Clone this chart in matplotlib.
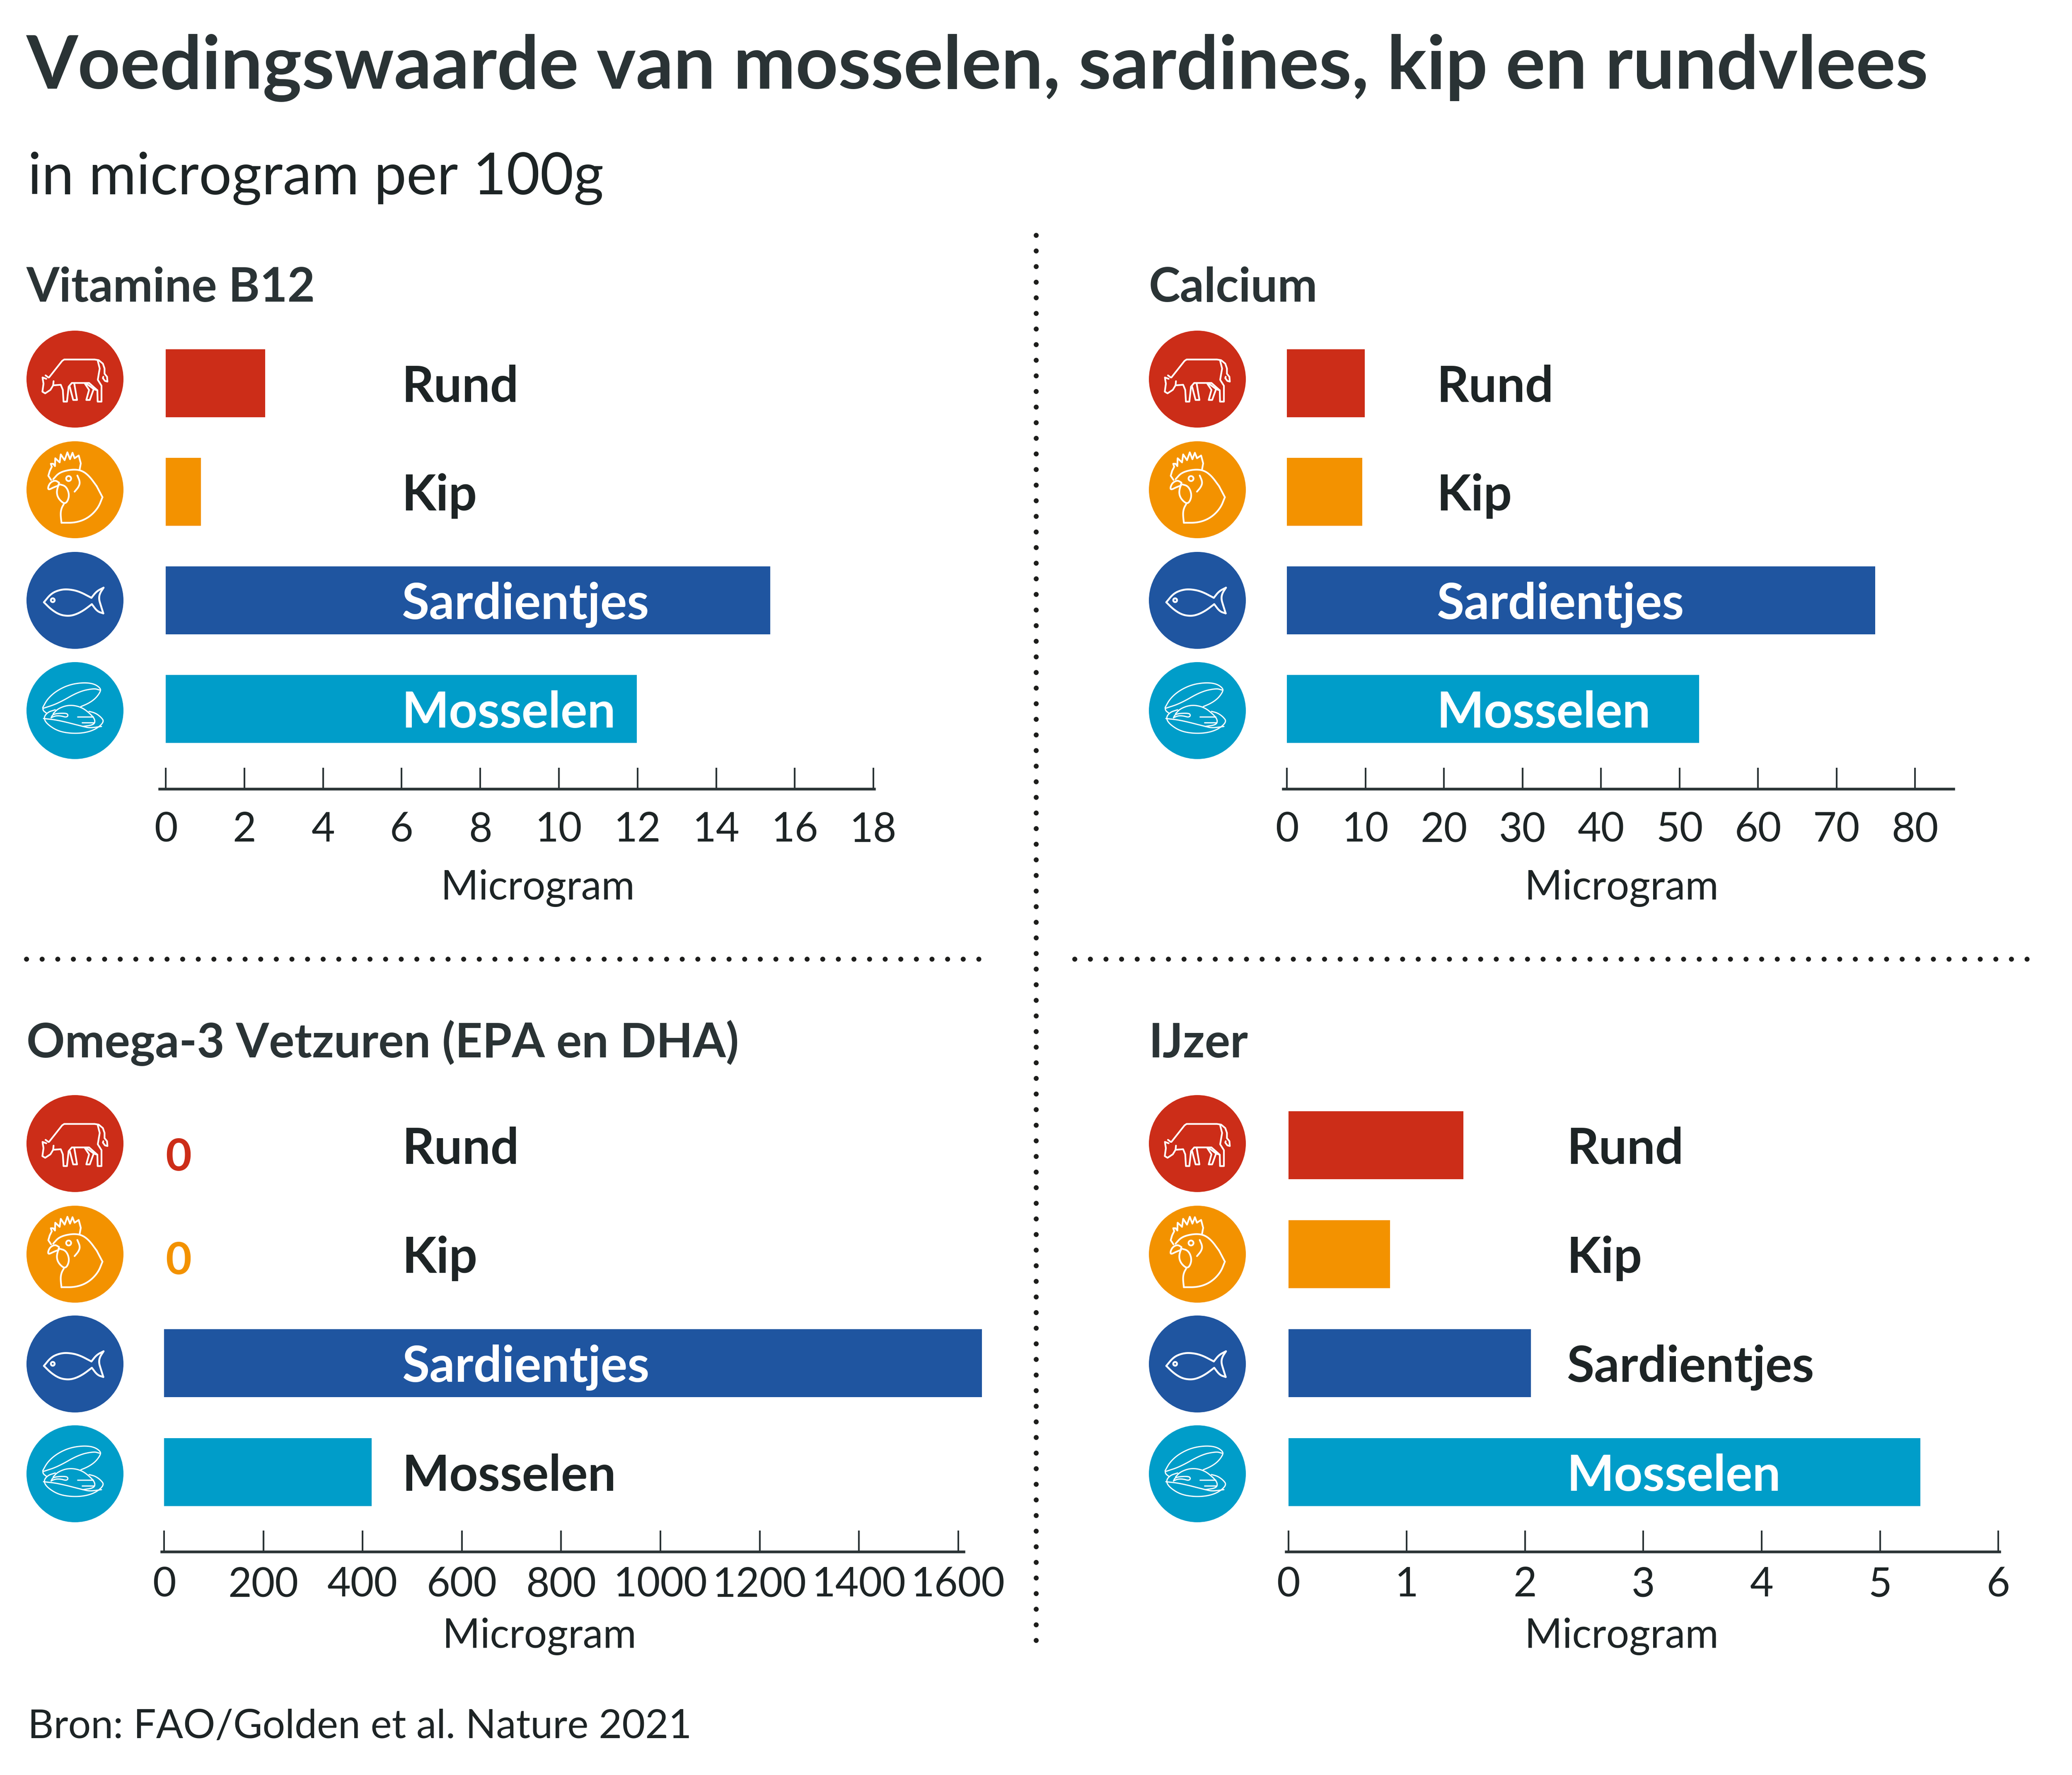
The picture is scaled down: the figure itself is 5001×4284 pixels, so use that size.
import numpy as np
import matplotlib
matplotlib.use("Agg")
import matplotlib.pyplot as plt
from matplotlib.patches import Circle

W, H = 5001, 4284
plt.rcParams["font.family"] = ["Lato", "Liberation Sans", "DejaVu Sans"]

foods = ["Rund", "Kip", "Sardientjes", "Mosselen"]
colors = ["#CC2D18", "#F39200", "#1F55A0", "#009DC9"]
DARK = "#1D2425"
HEAD = "#2A3335"

b12 = [2.53, 0.89, 15.37, 11.98]
calcium = [9.9, 9.6, 74.9, 52.5]
omega3 = [0, 0, 1648, 418]
ijzer = [1.48, 0.86, 2.05, 5.34]

b12_ticks = [0, 2, 4, 6, 8, 10, 12, 14, 16, 18]
calcium_ticks = [0, 10, 20, 30, 40, 50, 60, 70, 80]
omega3_ticks = [0, 200, 400, 600, 800, 1000, 1200, 1400, 1600]
ijzer_ticks = [0, 1, 2, 3, 4, 5, 6]

cow_lines = [
    ([(355, 455), (450, 335), (465, 325), (685, 325), (715, 330), (745, 355), (757, 390),
      (757, 428), (775, 450), (778, 485), (760, 480), (745, 460), (748, 450)], False),
    ([(708, 335), (722, 390), (708, 472), (735, 515), (735, 630), (707, 630), (705, 548),
      (645, 495), (520, 495), (497, 522), (485, 630), (460, 630), (455, 545), (440, 508),
      (385, 512)], False),
    ([(388, 482), (385, 512), (365, 545), (327, 570), (307, 558), (315, 500), (310, 470),
      (308, 455), (335, 465)], False),
    ([(330, 440), (350, 455)], False),
    ([(505, 522), (530, 618), (558, 618), (538, 500)], False),
    ([(615, 500), (645, 545), (625, 618), (650, 618), (678, 540)], False),
    ([(630, 503), (680, 540), (705, 548)], False),
]
chicken_lines = [
    ([(370, 1195), (350, 1165), (360, 1130), (375, 1100), (368, 1078), (385, 1078), (398, 1095),
      (400, 1038), (432, 1068), (440, 1010), (468, 1052), (488, 995), (507, 1045), (525, 998),
      (540, 1038), (570, 1018), (585, 1075), (577, 1118)], False),
    ([(385, 1190), (430, 1140), (520, 1118), (590, 1125), (645, 1165), (700, 1240)], True),
    ([(700, 1240), (742, 1320)], False),
    ([(742, 1320), (710, 1400), (640, 1470), (550, 1505), (445, 1505)], True),
    ([(445, 1505), (438, 1440), (445, 1400), (462, 1370)], True),
    ([(428, 1215), (400, 1197), (365, 1213), (348, 1245), (350, 1268), (390, 1248), (425, 1235)], True),
    ([(425, 1225), (480, 1240), (505, 1310), (475, 1375), (425, 1335), (408, 1285), (425, 1225)], True),
    ([(560, 1163), (580, 1210), (570, 1245), (540, 1280)], True),
]
fish_lines = [
    ([(318, 400), (370, 345), (430, 322), (490, 317), (570, 330), (662, 372)], True),
    ([(662, 372), (700, 330), (750, 308)], True),
    ([(750, 308), (722, 345), (716, 380), (730, 420), (748, 470)], True),
    ([(748, 470), (705, 458), (665, 412)], True),
    ([(665, 412), (600, 455), (540, 480), (490, 487), (430, 478), (370, 445), (318, 400)], True),
]
mussel_lines = [
    ([(310, 1065), (345, 1010), (410, 960), (500, 922), (600, 908), (680, 915), (730, 945),
      (725, 970), (690, 1010), (640, 1040), (585, 1060)], True),
    ([(315, 1070), (420, 1040), (570, 965), (680, 945), (720, 955)], True),
    ([(310, 1065), (312, 1085), (335, 1100)], True),
    ([(385, 1105), (420, 1072), (500, 1048), (590, 1062), (660, 1110), (690, 1145), (680, 1175), (600, 1185)], True),
    ([(400, 1080), (345, 1095), (315, 1130), (340, 1170), (420, 1215), (520, 1230), (620, 1225),
      (700, 1200), (755, 1155), (730, 1125), (690, 1100), (645, 1090)], True),
    ([(315, 1135), (420, 1145), (600, 1185), (650, 1195), (735, 1185)], True),
    ([(370, 1130), (385, 1105), (480, 1100), (495, 1115), (480, 1128), (440, 1118), (400, 1118), (370, 1130)], True),
    ([(562, 1125), (675, 1125)], False),
    ([(595, 1160), (680, 1160)], False),
]


def soften(pts, rounds=3):
    # corner cutting, keeps the end points
    pts = np.array(pts, dtype=float)
    for _ in range(rounds):
        q = 0.75 * pts[:-1] + 0.25 * pts[1:]
        r = 0.25 * pts[:-1] + 0.75 * pts[1:]
        mid = np.empty((len(q) * 2, 2))
        mid[0::2] = q
        mid[1::2] = r
        pts = np.vstack([pts[0], mid, pts[-1]])
    return pts


fig = plt.figure(figsize=(W / 300, H / 300), dpi=300, facecolor="white")

# full page layer in reference pixels
page = fig.add_axes([0, 0, 1, 1], zorder=5)
page.set_xlim(0, W)
page.set_ylim(H, 0)
page.axis("off")
page.patch.set_alpha(0)


def draw_icon(kind, cx, cy):
    if kind == 0:
        lines, ox, oy, sy, lw = cow_lines, 543, 467, 3.0, 1.0
    elif kind == 1:
        lines, ox, oy, sy, lw = chicken_lines, 543, 1266, 3.0, 1.0
    elif kind == 2:
        lines, ox, oy, sy, lw = fish_lines, 543, 388, 2.613, 1.1
    else:
        lines, ox, oy, sy, lw = mussel_lines, 543, 1085, 2.613, 0.7
    for pts, smooth in lines:
        p = soften(pts) if smooth else np.array(pts, dtype=float)
        page.plot(cx + (p[:, 0] - ox) / 3.0, cy + (p[:, 1] - oy) / sy, color="white", lw=lw,
                  solid_capstyle="round", solid_joinstyle="round", zorder=3)
    if kind == 1:
        page.add_patch(Circle((cx + (497 - ox) / 3, cy + (1185 - oy) / 3), 6, fc="none", ec="white", lw=lw, zorder=3))
    if kind == 2:
        page.add_patch(Circle((cx + (382 - ox) / 3, cy + (387 - oy) / sy), 4.5, fc="none", ec="white", lw=lw, zorder=3))


def panel(title, values, ticks, xlim, left, right, row0, step, axis_y, title_y, circles_x, circles_y,
          label_at, pad, xlabel_x, xlabel_y):
    top = row0 - step * 0.5
    ax = fig.add_axes([left / W, 1 - axis_y / H, (right - left) / W, (axis_y - top) / H], zorder=2)
    ax.patch.set_alpha(0)
    ax.barh(range(4), values, height=164 / step, color=colors, clip_on=False)
    ax.set_xlim(*xlim)
    ax.set_ylim((axis_y - row0) / step, -0.5)
    for s in ["left", "right", "top"]:
        ax.spines[s].set_visible(False)
    ax.spines["bottom"].set_linewidth(1.56)
    ax.spines["bottom"].set_color(HEAD)
    ax.set_yticks([])
    ax.set_xticks(ticks)
    ax.tick_params(axis="x", direction="in", length=12.2, width=0.96, color=HEAD, pad=pad,
                   labelsize=23.5, labelcolor=DARK)
    for i, name in enumerate(foods):
        inside = values[i] > label_at
        ax.text(label_at, i, name, color="white" if inside else DARK, fontsize=29, fontweight="bold",
                va="center_baseline", ha="left", zorder=4)
        if values[i] == 0:
            ax.text(label_at * 0.06, i + (0.08 if i == 0 else 0.03), "0", color=colors[i], fontsize=26,
                    fontweight="bold", va="center_baseline", ha="center", zorder=4)
    for i, cy in enumerate(circles_y):
        page.add_patch(Circle((circles_x, cy), 117, fc=colors[i], ec="none", zorder=2))
        draw_icon(i, circles_x, cy)
    page.text(circles_x - 117, title_y, title, fontsize=27.5, fontweight="bold", color=HEAD, va="baseline")
    page.text(xlabel_x, xlabel_y, "Microgram", fontsize=23.5, color=DARK, ha="center", va="baseline")
    return ax


rows_top = [915, 1182, 1449, 1715]
rows_bottom = [2760, 3027, 3292, 3557]

panel("Vitamine B12", b12, b12_ticks, (-0.16, 18.02), 385, 2110, 925, 262, 1904, 728, 181, rows_top,
      6.0, 13, 1298, 2171)
panel("Calcium", calcium, calcium_ticks, (-0.5, 84.9), 3097, 4715, 925, 262, 1904, 728, 2890, rows_top,
      19.05, 13, 3914, 2171)
panel("Omega-3 Vetzuren (EPA en DHA)", omega3, omega3_ticks, (-5, 1611), 390, 2326, 2764, 263, 3745, 2552, 181,
      rows_bottom, 479, 8.5, 1302, 3977)
panel("IJzer", ijzer, ijzer_ticks, (-0.02, 6.01), 3104, 4826, 2764, 263, 3745, 2552, 2890, rows_bottom,
      2.35, 8.5, 3914, 3977)

# dotted separators
dots = dict(color="#1D1D1B", lw=2.88, dash_capstyle="round", linestyle=(0, (0.01, 3.13)))
page.plot([64, 2370], [2315, 2315], **dots)
page.plot([2594, 4905], [2315, 2315], **dots)
page.plot([2501, 2501], [568, 3985], **dots)

page.text(64, 214, "Voedingswaarde van mosselen, sardines, kip en rundvlees", fontsize=43, fontweight="bold",
          color=HEAD, va="baseline")
page.text(67, 469, "in microgram per 100g", fontsize=33.5, color=DARK, va="baseline")
page.text(67, 4195, "Bron: FAO/Golden et al. Nature 2021", fontsize=23.2, color=DARK, va="baseline")

fig.savefig("out.png", dpi=300)
